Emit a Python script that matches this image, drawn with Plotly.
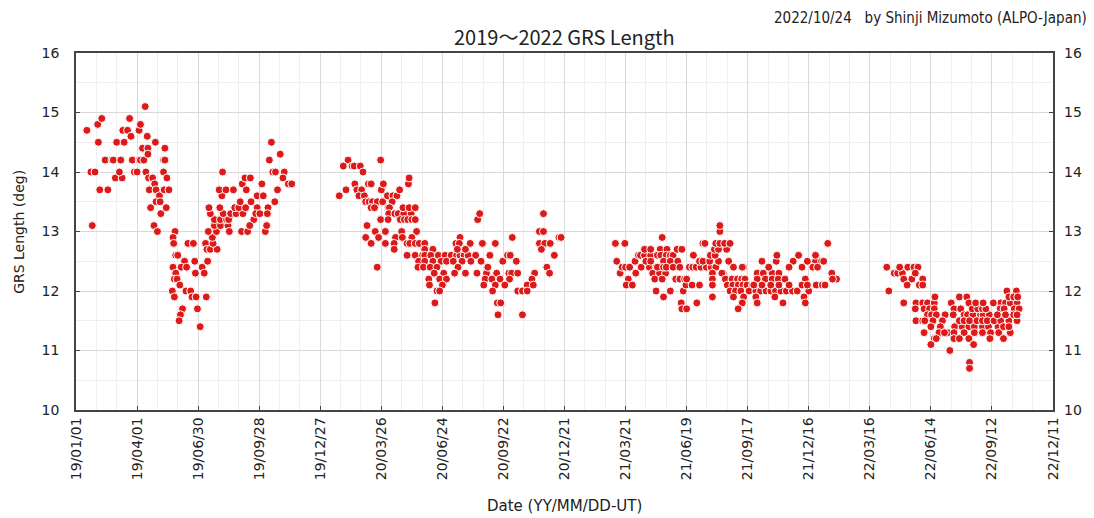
import pandas as pd
import plotly.graph_objects as go

START = pd.Timestamp("2019-01-01")
DAY_MS = 86400000

# day number counted from 2019-01-01 (UT) and GRS length (deg), per apparition
days_2019 = [16, 24, 22, 28, 32, 38, 33, 35, 47, 43, 53, 55, 60, 71, 66, 58, 68, 64,
             69, 76, 79, 81, 83, 86, 90, 93, 95, 100, 93, 95, 102, 105, 98, 106, 106,
             103, 107, 113, 117, 116, 108, 118, 123, 118, 124, 110, 125, 115, 120,
             131, 129, 131, 129, 134, 130, 137, 133, 146, 143, 144, 147, 150, 160,
             143, 155, 163, 147, 145, 149, 153, 142, 145, 162, 169, 171, 177, 157,
             154, 152, 165, 173, 175, 176, 179, 183, 192, 186, 189, 194, 191, 193,
             198, 208, 202, 201, 195, 207, 204, 213, 224, 226, 204, 213, 222, 225,
             198, 217, 228, 236, 246, 196, 212, 234, 240, 250, 242, 258, 215, 211,
             221, 232, 216, 245, 249, 257, 251, 267, 276, 274, 262, 267, 283, 265,
             271, 282, 244, 253, 279, 256, 281, 288, 285, 301, 290, 294, 307, 305,
             313, 318, 297, 293]
grs_2019 = [14.7, 13.1, 14.0, 14.0, 14.8, 14.9, 14.5, 13.7, 13.7, 14.2, 14.2, 14.2,
            14.5, 14.5, 14.2, 13.9, 13.9, 14.0, 14.7, 14.7, 14.9, 14.6, 14.2, 14.0,
            14.0, 14.2, 14.2, 14.2, 14.7, 14.8, 15.1, 14.6, 14.4, 14.4, 14.3, 14.0,
            13.9, 13.9, 14.5, 13.8, 13.7, 13.7, 13.6, 13.5, 13.5, 13.4, 13.3, 13.1,
            13.0, 14.4, 14.2, 14.2, 14.0, 13.9, 13.7, 13.7, 13.4, 13.0, 12.9, 12.8,
            12.6, 12.6, 12.5, 12.4, 12.4, 12.4, 12.3, 12.2, 12.2, 12.1, 12.0, 11.9,
            12.0, 12.0, 11.9, 11.9, 11.7, 11.6, 11.5, 12.8, 12.8, 12.5, 12.3, 11.7,
            11.4, 11.9, 12.4, 12.3, 12.5, 12.8, 12.7, 12.7, 12.7, 12.8, 12.9, 13.0,
            13.0, 13.1, 13.1, 13.1, 13.0, 13.2, 13.2, 13.2, 13.2, 13.3, 13.3, 13.3,
            13.3, 13.3, 13.4, 13.4, 13.4, 13.4, 13.4, 13.5, 13.5, 13.6, 13.7, 13.7,
            13.7, 14.0, 13.8, 13.9, 13.9, 13.7, 13.6, 13.6, 13.8, 13.2, 13.4, 13.4,
            13.3, 13.3, 13.3, 13.0, 13.0, 13.0, 13.1, 13.1, 14.5, 14.2, 14.3, 14.0,
            14.0, 14.0, 13.9, 13.8, 13.8, 13.7, 13.5]

days_2020 = [388, 398, 401, 394, 407, 410, 419, 423, 411, 414, 421, 417, 425, 431,
             435, 427, 432, 437, 444, 452, 435, 440, 450, 449, 453, 459, 467, 473,
             477, 466, 460, 462, 461, 470, 475, 483, 494, 482, 491, 500, 490, 491,
             449, 460, 478, 484, 489, 495, 500, 429, 441, 456, 480, 502, 427, 446,
             471, 481, 495, 435, 456, 469, 488, 492, 500, 506, 514, 469, 514, 526,
             488, 500, 511, 514, 523, 534, 544, 553, 561, 566, 572, 578, 589, 444,
             505, 514, 526, 538, 546, 556, 569, 582, 597, 504, 512, 522, 532, 563,
             606, 528, 542, 558, 574, 591, 605, 620, 638, 642, 651, 676, 520, 536,
             546, 603, 613, 625, 639, 672, 521, 540, 601, 618, 632, 665, 674, 532,
             536, 614, 651, 658, 665, 529, 621, 626, 622, 658, 566, 560, 565, 581,
             599, 618, 562, 574, 592, 595, 643, 610, 629, 636, 640, 649, 607, 689,
             683, 689, 683, 691, 699, 686, 705, 694, 698, 712, 715]
grs_2020 = [13.6, 13.7, 14.2, 14.1, 14.1, 14.1, 14.1, 14.0, 13.8, 13.7, 13.7, 13.6,
            13.6, 13.8, 13.8, 13.5, 13.5, 13.5, 13.5, 13.5, 13.4, 13.4, 13.7, 14.2,
            13.8, 13.6, 13.6, 13.6, 13.7, 13.5, 13.4, 13.4, 13.3, 13.3, 13.3, 13.3,
            13.3, 13.4, 13.4, 13.4, 13.8, 13.9, 13.2, 13.2, 13.2, 13.2, 13.2, 13.2,
            13.2, 13.1, 13.0, 13.0, 13.0, 13.0, 12.9, 12.9, 12.9, 12.9, 12.9, 12.8,
            12.8, 12.8, 12.8, 12.8, 12.8, 12.8, 12.8, 12.7, 12.7, 12.7, 12.6, 12.6,
            12.6, 12.6, 12.6, 12.6, 12.6, 12.6, 12.6, 12.6, 12.6, 12.6, 12.6, 12.4,
            12.5, 12.5, 12.5, 12.5, 12.5, 12.5, 12.5, 12.5, 12.5, 12.4, 12.4, 12.4,
            12.4, 12.4, 12.4, 12.3, 12.3, 12.3, 12.3, 12.3, 12.3, 12.3, 12.3, 12.3,
            12.3, 12.3, 12.2, 12.2, 12.2, 12.2, 12.2, 12.2, 12.2, 12.2, 12.1, 12.1,
            12.1, 12.1, 12.1, 12.1, 12.1, 12.0, 12.0, 12.0, 12.0, 12.0, 12.0, 11.8,
            11.8, 11.8, 11.6, 11.6, 12.9, 12.8, 12.8, 12.8, 12.8, 12.8, 12.7, 12.7,
            13.2, 13.3, 12.9, 12.6, 12.5, 12.6, 12.6, 12.5, 12.4, 13.3, 13.0, 13.0,
            12.8, 12.8, 12.8, 12.7, 12.6, 12.4, 12.3, 12.9, 12.9]

days_2021 = [795, 809, 797, 802, 805, 810, 816, 814, 811, 820, 824, 825, 829, 832,
             838, 847, 838, 847, 833, 845, 855, 840, 847, 850, 860, 869, 853, 864,
             855, 864, 861, 871, 857, 862, 870, 876, 880, 866, 876, 887, 857, 866,
             870, 880, 890, 876, 866, 886, 893, 884, 890, 897, 895, 892, 893, 900,
             899, 900, 904, 909, 914, 921, 929, 936, 943, 954, 910, 919, 924, 934,
             947, 962, 924, 927, 935, 942, 941, 947, 959, 943, 949, 956, 964, 949,
             949, 938, 938, 938, 938, 908, 919, 915, 952, 957, 967, 975, 981, 986,
             960, 968, 976, 983, 989, 997, 964, 972, 980, 992, 1002, 1009, 1017,
             1024, 1031, 1039, 1047, 1056, 1063, 1080, 969, 984, 1002, 1030, 1073,
             982, 1004, 1042, 1075, 976, 969, 984, 1004, 1013, 1026, 1036, 1004,
             1016, 1026, 1035, 1045, 1075, 999, 1011, 1024, 1036, 1051, 1070, 1078,
             1091, 1100, 1104, 1011, 1032, 1057, 1078, 1090, 1099, 1102, 1033, 1065,
             1090, 1021, 1051, 1070, 1086, 1093, 1108, 1114, 1121, 1115, 982]
grs_2021 = [12.8, 12.8, 12.5, 12.3, 12.4, 12.4, 12.4, 12.2, 12.1, 12.1, 12.5, 12.3,
            12.6, 12.6, 12.6, 12.6, 12.7, 12.7, 12.4, 12.4, 12.4, 12.5, 12.5, 12.3,
            12.3, 12.3, 12.2, 12.2, 12.0, 12.9, 12.7, 12.7, 12.6, 12.6, 12.6, 12.6,
            12.6, 12.5, 12.5, 12.5, 12.4, 12.4, 12.4, 12.4, 12.4, 12.0, 11.9, 12.7,
            12.7, 12.2, 12.2, 12.2, 12.0, 11.8, 11.7, 11.7, 12.1, 12.2, 12.4, 12.4,
            12.4, 12.4, 12.4, 12.4, 12.4, 12.3, 12.6, 12.5, 12.5, 12.5, 12.5, 12.5,
            12.8, 12.8, 12.6, 12.6, 12.7, 12.7, 12.7, 12.8, 12.8, 12.8, 12.8, 13.0,
            13.1, 12.3, 12.2, 12.1, 11.9, 12.1, 12.1, 11.8, 12.3, 12.2, 12.2, 12.2,
            12.2, 12.2, 12.1, 12.1, 12.1, 12.1, 12.1, 12.1, 12.0, 12.0, 12.0, 12.0,
            12.0, 12.0, 12.0, 12.0, 12.0, 12.0, 12.0, 12.0, 12.0, 12.0, 11.9, 11.9,
            11.9, 11.9, 11.9, 11.8, 11.8, 11.8, 11.8, 11.7, 12.4, 12.4, 12.3, 12.3,
            12.3, 12.3, 12.2, 12.2, 12.2, 12.2, 12.2, 12.2, 12.1, 12.1, 12.1, 12.1,
            12.1, 12.1, 12.1, 12.1, 12.1, 12.1, 12.5, 12.5, 12.5, 12.5, 12.5, 12.5,
            12.5, 12.6, 12.6, 12.6, 12.4, 12.4, 12.4, 12.4, 12.4, 12.8, 12.3, 12.2,
            12.2, 12.4]

days_2022 = [1195, 1198, 1206, 1211, 1218, 1214, 1226, 1235, 1241, 1220, 1232, 1248,
             1225, 1243, 1248, 1237, 1220, 1238, 1248, 1255, 1265, 1266, 1237, 1250,
             1258, 1265, 1255, 1261, 1268, 1281, 1238, 1248, 1251, 1263, 1277, 1260,
             1274, 1250, 1272, 1285, 1265, 1268, 1260, 1288, 1290, 1302, 1313, 1294,
             1304, 1293, 1309, 1314, 1322, 1333, 1337, 1346, 1316, 1295, 1306, 1316,
             1324, 1336, 1345, 1359, 1302, 1309, 1317, 1328, 1336, 1343, 1353, 1363,
             1375, 1387, 1280, 1294, 1309, 1324, 1336, 1348, 1360, 1377, 1294, 1302,
             1316, 1347, 1367, 1323, 1317, 1317, 1321, 1329, 1336, 1341, 1326, 1337,
             1353, 1363, 1370, 1377, 1387, 1372, 1386, 1375, 1382, 1388, 1362, 1368,
             1383, 1390, 1358, 1370, 1382, 1387, 1367, 1375, 1352]
grs_2022 = [12.4, 12.0, 12.3, 12.3, 12.3, 12.4, 12.4, 12.4, 12.4, 12.2, 12.2, 12.2,
            12.1, 12.1, 12.1, 12.3, 11.8, 11.8, 11.8, 11.8, 11.8, 11.9, 11.7, 11.7,
            11.7, 11.7, 11.6, 11.6, 11.6, 11.6, 11.5, 11.5, 11.5, 11.5, 11.5, 11.4,
            11.4, 11.3, 11.3, 11.3, 11.2, 11.2, 11.1, 11.0, 11.8, 11.9, 11.9, 11.7,
            11.7, 11.6, 11.6, 11.6, 11.6, 11.6, 11.6, 11.6, 11.8, 11.4, 11.4, 11.4,
            11.4, 11.4, 11.4, 11.4, 11.5, 11.5, 11.5, 11.5, 11.5, 11.5, 11.5, 11.5,
            11.5, 11.5, 11.3, 11.3, 11.3, 11.3, 11.3, 11.3, 11.3, 11.3, 11.2, 11.2,
            11.2, 11.2, 11.2, 11.1, 10.8, 10.7, 11.7, 11.7, 11.7, 11.7, 11.8, 11.8,
            11.8, 11.8, 11.8, 11.8, 11.8, 12.0, 12.0, 11.9, 11.9, 11.9, 11.7, 11.7,
            11.7, 11.7, 11.6, 11.6, 11.6, 11.6, 11.4, 11.4, 11.8]

days = days_2019 + days_2020 + days_2021 + days_2022
grs = grs_2019 + grs_2020 + grs_2021 + grs_2022
dates = START + pd.to_timedelta(days, unit="D")

FONT = "DejaVu Sans"
AXIS_COLOR = "#444444"

fig = go.Figure()
fig.add_trace(go.Scatter(
    x=dates, y=grs, mode="markers",
    marker=dict(color="#dd1a1a", size=8, line=dict(color="white", width=1)),
    showlegend=False,
))
# dummy trace so the right-hand axis is drawn
fig.add_trace(go.Scatter(x=[dates[0]], y=[None], yaxis="y2", mode="markers",
                         showlegend=False, hoverinfo="skip"))

# the page body adds an 8px offset, so the figure is 8px smaller than the window
fig.update_layout(
    width=1086, height=510,
    margin=dict(l=68, r=35, t=45, b=108),
    paper_bgcolor="white", plot_bgcolor="white",
    font=dict(family=FONT, size=13, color="#222222"),
    xaxis=dict(
        type="date",
        range=[START, START + pd.Timedelta(days=1440)],
        tick0="2019-01-01", dtick=90 * DAY_MS, tickformat="%y/%m/%d",
        tickangle=-90, ticks="inside", ticklen=4, tickcolor=AXIS_COLOR,
        showline=True, mirror=True, linecolor=AXIS_COLOR, linewidth=1.5,
        showgrid=True, gridcolor="#d9d9d9", zeroline=False,
        tickfont=dict(size=14),
        minor=dict(tick0="2019-01-01", dtick=30 * DAY_MS, showgrid=True,
                   gridcolor="#efefef", ticks=""),
    ),
    yaxis=dict(
        range=[10, 16], dtick=1, ticks="inside", ticklen=4, tickcolor=AXIS_COLOR,
        showline=True, mirror=True, linecolor=AXIS_COLOR, linewidth=1.5,
        showgrid=True, gridcolor="#d9d9d9", zeroline=False,
        tickfont=dict(size=14), ticklabelstandoff=12,
        minor=dict(dtick=0.5, showgrid=True, gridcolor="#efefef", ticks=""),
    ),
    yaxis2=dict(
        range=[10, 16], dtick=1, overlaying="y", side="right",
        ticks="inside", ticklen=4, tickcolor=AXIS_COLOR,
        showgrid=False, zeroline=False, tickfont=dict(size=14),
        ticklabelstandoff=10,
    ),
    annotations=[
        dict(text="2019～2022 GRS Length", x=0.5, y=1.045, xref="paper", yref="paper",
             yanchor="middle", showarrow=False,
             font=dict(family="Noto Sans CJK JP", size=20)),
        dict(text="2022/10/24   by Shinji Mizumoto (ALPO-Japan)", x=1.037, y=1.098,
             xref="paper", yref="paper", xanchor="right", yanchor="middle",
             showarrow=False, font=dict(family="DejaVu Sans Condensed", size=15)),
        dict(text="Date (YY/MM/DD-UT)", x=0.5, y=-0.27, xref="paper", yref="paper",
             yanchor="middle", showarrow=False, font=dict(size=15)),
        dict(text="GRS Length (deg)", x=-0.059, y=0.5, xref="paper", yref="paper",
             xanchor="center", yanchor="middle", textangle=-90, showarrow=False,
             font=dict(size=14)),
    ],
)

fig.write_html("out.html")
